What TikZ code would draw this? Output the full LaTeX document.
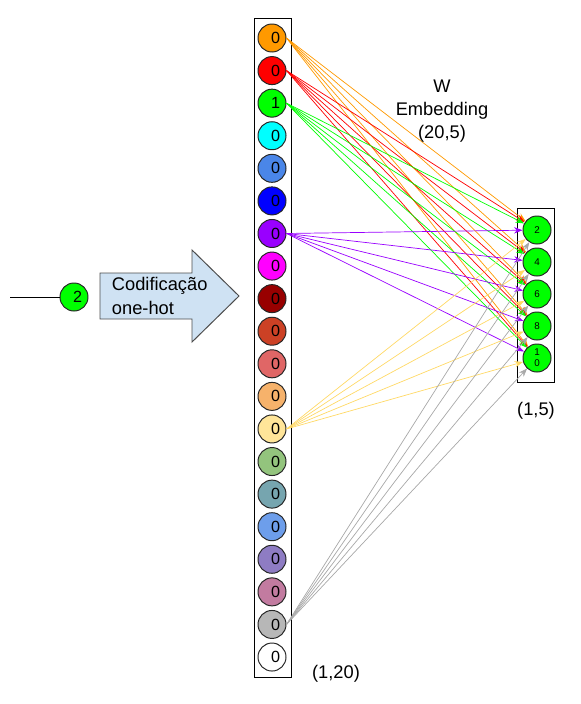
\documentclass[tikz,border=0pt]{standalone}
\usepackage{fontspec}
\setmainfont{Liberation Sans}
\usetikzlibrary{arrows.meta,positioning}
\definecolor{gorange}{HTML}{FF9900}
\definecolor{gred}{HTML}{FF0000}
\definecolor{ggreen}{HTML}{00FF00}
\definecolor{gcyan}{HTML}{00FFFF}
\definecolor{gcorn}{HTML}{4A86E8}
\definecolor{gblue}{HTML}{0000FF}
\definecolor{gpurple}{HTML}{9900FF}
\definecolor{gmagenta}{HTML}{FF00FF}
\definecolor{gberry}{HTML}{980000}
\definecolor{gbrick}{HTML}{CC4125}
\definecolor{gsalmon}{HTML}{E06666}
\definecolor{gpeach}{HTML}{F6B26B}
\definecolor{gyellow}{HTML}{FFE599}
\definecolor{gyellowline}{HTML}{FFD966}
\definecolor{gsage}{HTML}{93C47D}
\definecolor{gteal}{HTML}{76A5AF}
\definecolor{gsky}{HTML}{6D9EEB}
\definecolor{glilac}{HTML}{8E7CC3}
\definecolor{gmauve}{HTML}{C27BA0}
\definecolor{ggrey}{HTML}{B7B7B7}
\definecolor{ggreyline}{HTML}{A8A8A8}
\definecolor{encblue}{HTML}{CFE2F3}

\begin{document}
\begin{tikzpicture}[x=0.025cm, y=-0.025cm,
    unit/.style={circle, draw=black!85, line width=0.7pt, minimum size=0.7cm, inner sep=0pt, font=\fontsize{11.5}{13}\selectfont},
    outunit/.style={unit, fill=ggreen, align=center, font=\fontsize{7}{8}\selectfont},
    column/.style={draw=black, line width=0.7pt},
    link/.style={line width=0.5pt, -{Stealth[length=6pt,width=4.5pt]}},
    lbl/.style={align=center, font=\fontsize{13}{16.5}\selectfont}
]
\useasboundingbox (0,0) rectangle (580,704);

% one-hot input column
\draw[column] (254,18) rectangle (291,677);
\foreach \i/\c/\v in {1/gorange/0, 2/gred/0, 3/ggreen/1, 4/gcyan/0, 5/gcorn/0,
    6/gblue/0, 7/gpurple/0, 8/gmagenta/0, 9/gberry/0, 10/gbrick/0,
    11/gsalmon/0, 12/gpeach/0, 13/gyellow/0, 14/gsage/0, 15/gteal/0,
    16/gsky/0, 17/glilac/0, 18/gmauve/0, 19/ggrey/0, 20/white/0}
  \node[unit, fill=\c] (in\i) at (272,{38+(\i-1)*32.58}) {\hspace*{5pt}\v};

% embedding column
\draw[column] (517,208) rectangle (554,382);
\foreach \j/\v in {1/2, 2/4, 3/6, 4/8, 5/{1\\0}}
  \node[outunit] (out\j) at (537,{230+(\j-1)*32}) {\v};

% weights
\foreach \i/\c in {1/gorange, 2/gred, 3/ggreen, 7/gpurple, 13/gyellowline, 19/ggreyline}
  \foreach \j in {1,...,5}
    \draw[link, \c] (in\i.east) -- (out\j);

% token and encoding
\coordinate (src) at (10,297);
\node[unit, fill=ggreen] (tok) at (74,297) {\hspace*{5pt}2};
\draw[line width=0.7pt] (src) -- (tok);
\draw[fill=encblue, draw=black!70, line width=0.7pt] (100,273) -- (192,273) -- (192,250) -- (239,296) -- (192,342) -- (192,319) -- (100,319) -- cycle;
\node[lbl, align=left, anchor=west] (enctext) at (107,296) {Codificação\\one-hot};

\node[lbl] (wlbl) at (442,111) {W\\Embedding\\(20,5)};
\node[lbl] (inshape) at (336,674) {(1,20)};
\node[lbl] (outshape) at (536,411) {(1,5)};
\end{tikzpicture}
\end{document}
